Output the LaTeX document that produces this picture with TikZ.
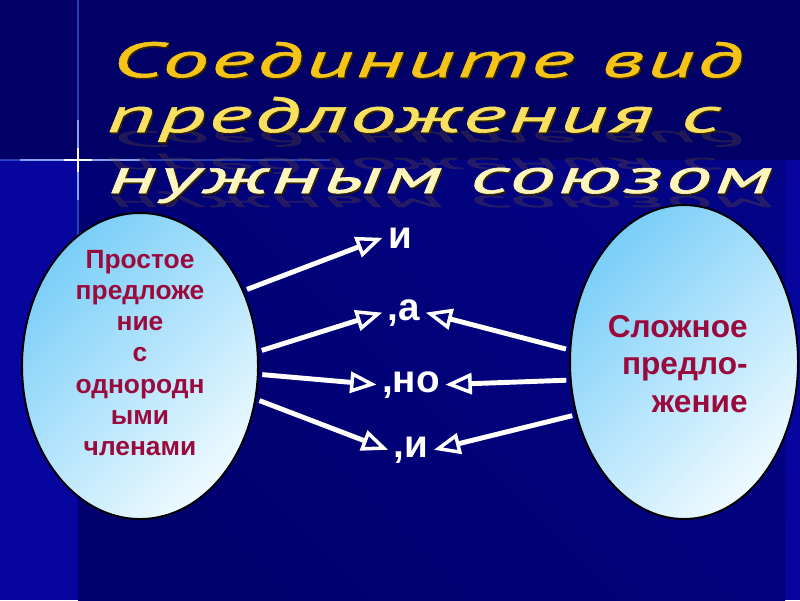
\documentclass[tikz,border=0pt]{standalone}
\usepackage{fontspec}
\setmainfont{Liberation Sans}
\newfontfamily\titlefont{PT Sans}[FakeStretch=1.9, LetterSpace=5, FakeBold=1.2]
\usetikzlibrary{arrows.meta, shapes.geometric}
\definecolor{bgdark}{RGB}{0,0,102}
\definecolor{bglow}{RGB}{0,0,110}
\definecolor{bgblue}{RGB}{6,6,158}
\definecolor{ovlblue}{RGB}{122,206,248}
\definecolor{ovlwhite}{RGB}{238,250,255}
\definecolor{txtred}{RGB}{155,10,60}
\definecolor{goldA}{RGB}{246,196,22}
\definecolor{goldB}{RGB}{250,224,96}
\definecolor{goldC}{RGB}{255,246,190}
\definecolor{ttlshadow}{RGB}{50,36,0}
\definecolor{reflbrown}{RGB}{130,96,40}
\definecolor{flare}{RGB}{90,140,255}

\begin{document}
\begin{tikzpicture}[x=0.02cm, y=-0.02cm,
  oval/.style={ellipse, draw=black, line width=1.1pt, top color=ovlblue,
    bottom color=ovlwhite, shading angle=45},
  ovaltext/.style={text=txtred, font=\bfseries\fontsize{15}{17.7}\selectfont,
    inner sep=0pt},
  lbl/.style={text=white, font=\bfseries\fontsize{22}{26}\selectfont,
    inner sep=3pt, anchor=base},
  conn/.style={white, line width=2.8pt, shorten <=2pt,
    -{Triangle[open, length=15pt, width=12pt, line width=2pt]}},
  ttl/.style={font=\titlefont\itshape\fontsize{28}{30}\selectfont,
    inner sep=0pt, anchor=base west}]
\useasboundingbox (0,0) rectangle (800,600);
% background
\fill[bgdark] (0,0) rectangle (800,600);
\fill[bgblue] (0,160) rectangle (800,600);
\shade[top color=bgblue!55!bgdark, bottom color=bglow, shading angle=-45]
  (78,160) rectangle (785,600);

% ---- flare ----
\draw[flare, line width=0.8pt, opacity=0.45] (78,0) -- (78,250);
\draw[flare, line width=0.8pt, opacity=0.45] (0,160) -- (330,160);
\draw[flare!60!white, line width=1pt, opacity=0.8] (78,120) -- (78,200);
\draw[flare!60!white, line width=1pt, opacity=0.8] (20,160) -- (140,160);
\draw[white, line width=1pt] (78,148) -- (78,172);
\draw[white, line width=1pt] (64,160) -- (92,160);

% ---- title ----
\foreach \x/\y/\t in {112/131/Соедините вид, 107/158/предложения с,
                      108/196/нужным союзом}{
  \node[ttl, text=reflbrown, opacity=0.25] at (\x,\y) {\scalebox{1}[-0.45]{\t}};
}
\foreach \x/\y/\c/\t in {112/77/goldA/Соедините вид, 107/132/goldB/предложения с,
                          108/193/goldC/нужным союзом}{
  \node[ttl, text=ttlshadow] at (\x+1.5,\y+1.5) {\t};
  \node[ttl, text=\c] at (\x,\y) {\t};
}

% ---- ovals ----
\node[oval, minimum width=4.72cm, minimum height=6.12cm] (simple) at (140,366) {};
\node[oval, minimum width=4.56cm, minimum height=6.28cm] (complex) at (684,362) {};
\node[ovaltext, align=center] (simpletxt) at (140,353)
  {Простое\\предложе\\ние\\с\\однородн\\ыми\\членами};
\node[ovaltext, align=right, anchor=east, font=\bfseries\fontsize{18}{21.5}\selectfont]
  (complextxt) at (748,364) {Сложное\\предло-\\жение};

% ---- conjunctions ----
\node[lbl] (li)  at (400,248) {и};
\node[lbl] (la)  at (404,320) {,а};
\node[lbl] (lno) at (411,392) {,но};
\node[lbl] (lii) at (411,457) {,и};

% ---- arrows ----
\draw[conn] (simple.36)  -- (li.west);
\draw[conn] (simple.7)   -- (la.west);
\draw[conn] (simple.-4)  -- (lno.west);
\draw[conn] (simple.-16) -- (lii.west);
\draw[conn] (complex.174) -- (la.east);
\draw[conn] (complex.189) -- (lno.east);
\draw[conn] (complex.206) -- (lii.east);
\end{tikzpicture}
\end{document}
